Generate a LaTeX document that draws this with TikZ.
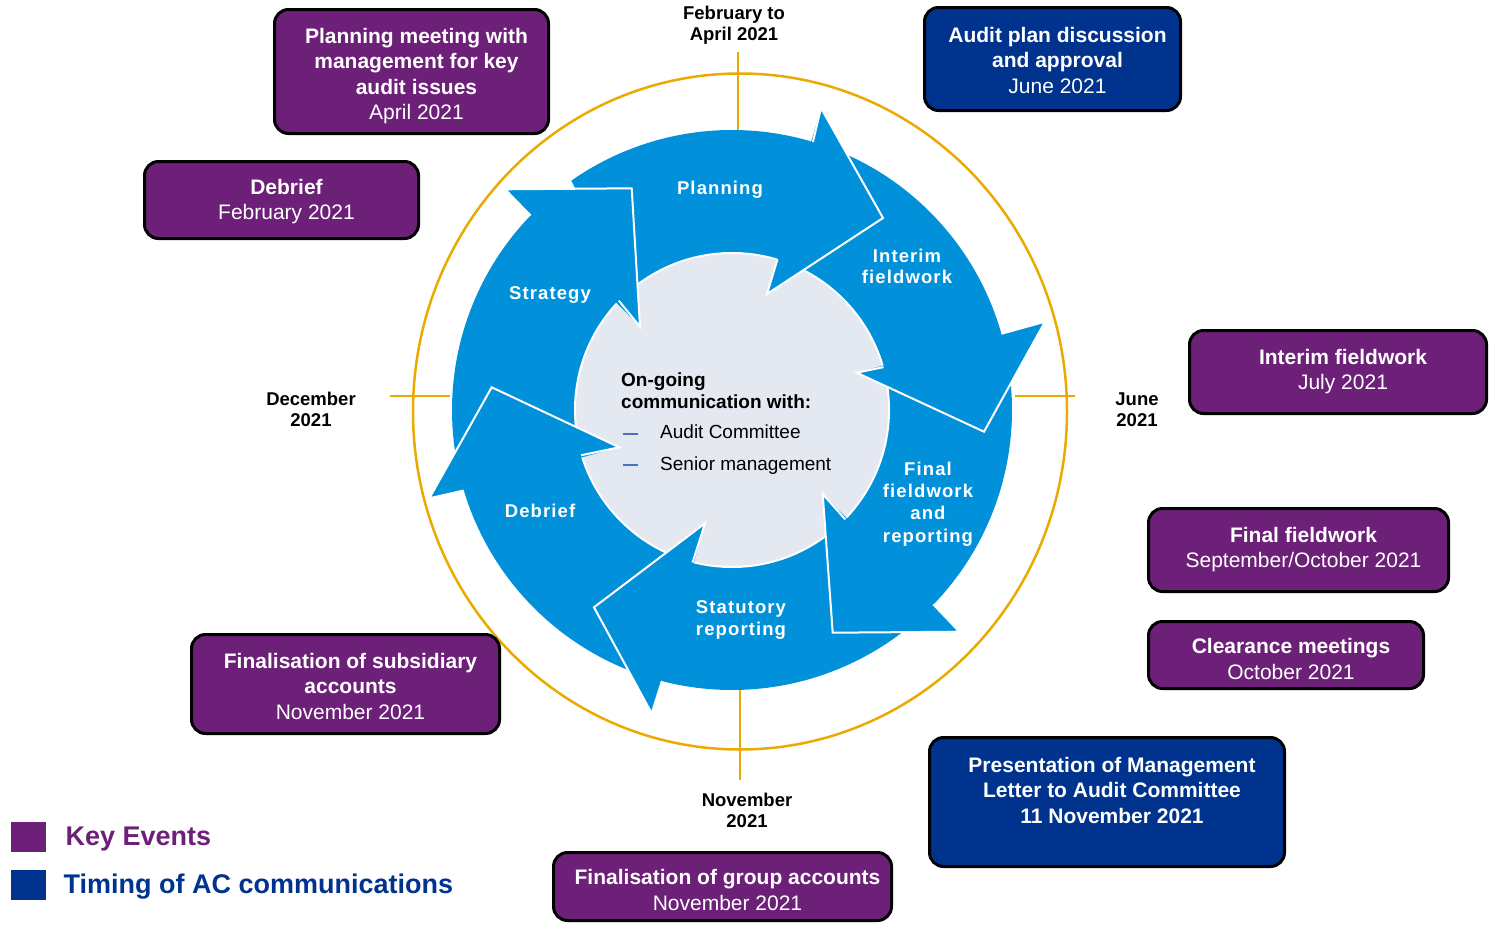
\documentclass[tikz,border=0pt]{standalone}
\usepackage{fontspec}
\setmainfont{Liberation Sans}
\newfontfamily\spacedsans[LetterSpace=6]{Liberation Sans}
\usetikzlibrary{calc}

\definecolor{kpurple}{HTML}{6D2077}
\definecolor{kblue}{HTML}{00338D}
\definecolor{ringblue}{HTML}{0091DA}
\definecolor{kgold}{HTML}{EAAA00}
\definecolor{hubgrey}{HTML}{E4E8F1}
\definecolor{dashblue}{HTML}{4A72C0}

\newcommand\fsz[2]{\fontsize{#1}{#2}\selectfont}
% caption of an event box: bold lines, then a regular date line;
% the optional argument lowers the block inside its box
\newcommand\evtext[3][0pt]{\hspace*{10pt}\raisebox{-#1}[\height][\depth]{%
  \begin{tabular}{@{}c@{}}#2\\\mdseries #3\end{tabular}}}

% body of one cycle arrow: tail angle (outer), tail angle (inner), back angle,
% outer back corner, tip, inner back corner
\newcommand\arrowbody[6]{%
  \fill[ringblue] ($(C)+(#1:280)$) arc[start angle=#1, end angle=#3, radius=280]
    -- #4 -- #5 -- #6 -- ($(C)+(#3:157.5)$)
    arc[start angle=#3, end angle=#2, radius=157.5] -- cycle;}
% head of one cycle arrow, laid over the next arrow's tail, with its white rim
\newcommand\arrowhead[4]{%
  \fill[ringblue] #2 -- #3 -- #4 -- cycle;
  \draw[white, line width=2pt] ($(C)+(#1:280)$) -- #2 -- #3 -- #4 -- ($(C)+(#1:157.5)$);}

\tikzset{
  evbox/.style={draw=black, line width=3pt, rounded corners=14pt, fill=kpurple,
    text=white, inner sep=0pt, font=\bfseries\fsz{21}{25.5}},
  acbox/.style={evbox, fill=kblue},
  ringlbl/.style={text=white, font=\spacedsans\bfseries\fsz{18.5}{21.5}, align=center},
  monthlbl/.style={font=\bfseries\fsz{18.5}{21}, align=center},
  axistick/.style={draw=kgold, line width=2.5pt},
  legsq/.style={inner sep=0pt, minimum width=34.7pt, minimum height=29.4pt},
}

\begin{document}
\begin{tikzpicture}[x=1pt,y=1pt]
\useasboundingbox (0,0) rectangle (1499,-929);
\coordinate (C) at (732,-410);

% gold year ring and its quarter marks
\draw[kgold, line width=2.5pt] (740,-411.5) ellipse[x radius=327, y radius=338];
\draw[axistick] (738,-52) -- (738,-130);
\draw[axistick] (740,-688) -- (740,-780);
\draw[axistick] (390,-396) -- (450,-396);
\draw[axistick] (1015,-396) -- (1075,-396);

% cycle arrows: bodies first
\arrowbody{125}{132}{73.2}{(821,-108)}{(883,-218)}{(767,-294)}
\arrowbody{69.2}{69.2}{15.8}{(1045,-321.7)}{(984,-431.7)}{(856.7,-372.7)}
\arrowbody{11.8}{11.8}{-44}{(959.3,-631.7)}{(832.7,-632.7)}{(822.7,-494)}
\arrowbody{-48}{-48}{-104.5}{(651.7,-713.3)}{(594,-607.3)}{(705,-523.3)}
\arrowbody{-108.5}{-108.5}{-163.3}{(429.3,-498.3)}{(491.7,-387.3)}{(619.3,-447.3)}
\arrowbody{-167.3}{-167.3}{-224}{(505,-189.3)}{(631.7,-188.3)}{(640,-326.7)}

% hub
\fill[hubgrey] (C) circle[radius=157];
\draw[white, line width=2pt] (C) circle[radius=157];

% arrow heads on top
\arrowhead{73.2}{(821,-108)}{(883,-218)}{(767,-294)}
\arrowhead{15.8}{(1045,-321.7)}{(984,-431.7)}{(856.7,-372.7)}
\arrowhead{-44}{(959.3,-631.7)}{(832.7,-632.7)}{(822.7,-494)}
\arrowhead{-104.5}{(651.7,-713.3)}{(594,-607.3)}{(705,-523.3)}
\arrowhead{-163.3}{(429.3,-498.3)}{(491.7,-387.3)}{(619.3,-447.3)}
\arrowhead{-224}{(505,-189.3)}{(631.7,-188.3)}{(640,-326.7)}

% stage labels
\node[ringlbl] (lplan) at (720,-189.5) {Planning};
\node[ringlbl] (lint) at (907,-266.5) {Interim\\fieldwork};
\node[ringlbl, font=\spacedsans\bfseries\fsz{18.5}{22.3}] (lfin) at (928,-504) {Final\\fieldwork\\and\\reporting};
\node[ringlbl] (lstat) at (741,-620) {Statutory\\reporting};
\node[ringlbl] (ldeb) at (540,-510.5) {Debrief};
\node[ringlbl] (lstr) at (550,-294.5) {Strategy};

% hub text
\node[anchor=north west, align=left, inner sep=0pt, font=\bfseries\fsz{19}{21.5}] (hubtitle) at (621,-372.7) {On-going\\communication with:};
\node[anchor=base west, inner sep=0pt, font=\fsz{19}{21.5}] (hubac) at (622.5,-438.3)
  {{\color{dashblue}\rule[3.5pt]{15.5pt}{1.4pt}}\hspace{22pt}Audit Committee};
\node[anchor=base west, inner sep=0pt, font=\fsz{19}{21.5}] (hubsm) at (622.5,-470)
  {{\color{dashblue}\rule[4.5pt]{15.5pt}{1.4pt}}\hspace{22pt}Senior management};

% month marks
\node[monthlbl] (feb) at (734,-25.5) {February to\\April 2021};
\node[monthlbl] (dec) at (311,-409.5) {December\\2021};
\node[monthlbl] (jun) at (1137,-409.5) {June\\2021};
\node[monthlbl] (nov) at (747,-810) {November\\2021};

% key events
\node[evbox, minimum width=274pt, minimum height=124pt] (plm) at (411.5,-71.5)
  {\evtext[5pt]{Planning meeting with\\management for key\\audit issues}{April 2021}};
\node[evbox, minimum width=274pt, minimum height=77pt] (dbf) at (281.5,-200)
  {\evtext[2pt]{Debrief}{February 2021}};
\node[evbox, minimum width=297pt, minimum height=83pt] (ifw) at (1338,-372)
  {\evtext{Interim fieldwork}{July 2021}};
\node[evbox, minimum width=300pt, minimum height=83pt] (ffw) at (1298.5,-550)
  {\evtext{Final fieldwork}{September/October 2021}};
\node[evbox, minimum width=275pt, minimum height=67pt] (clm) at (1286,-655)
  {\evtext[6.5pt]{Clearance meetings}{October 2021}};
\node[evbox, minimum width=338pt, minimum height=68pt] (fga) at (722.5,-886.5)
  {\evtext[6pt]{Finalisation of group accounts}{November 2021}};
\node[evbox, minimum width=308pt, minimum height=99pt] (fsa) at (345.5,-684)
  {\evtext[4.5pt]{Finalisation of subsidiary\\accounts}{November 2021}};

% Audit Committee communications
\node[acbox, minimum width=256pt, minimum height=103pt] (apd) at (1052.5,-59)
  {\evtext[3.5pt]{Audit plan discussion\\and approval}{June 2021}};
\node[acbox, minimum width=355pt, minimum height=129pt] (pml) at (1107,-802)
  {\hspace*{10pt}\raisebox{-3.5pt}[\height][\depth]{\begin{tabular}{@{}c@{}}Presentation of Management\\Letter to Audit Committee\\11 November 2021\\\mbox{}\end{tabular}}};

% legend
\node[legsq, fill=kpurple] (lgk) at (28.3,-837) {};
\node[anchor=base west, inner sep=0pt, text=kpurple, font=\bfseries\fsz{27}{30}] (lgkt) at (65.5,-845) {Key Events};
\node[legsq, fill=kblue] (lga) at (28.3,-885) {};
\node[anchor=base west, inner sep=0pt, text=kblue, font=\bfseries\fsz{27}{30}] (lgat) at (63.5,-893) {Timing of AC communications};
\end{tikzpicture}
\end{document}
